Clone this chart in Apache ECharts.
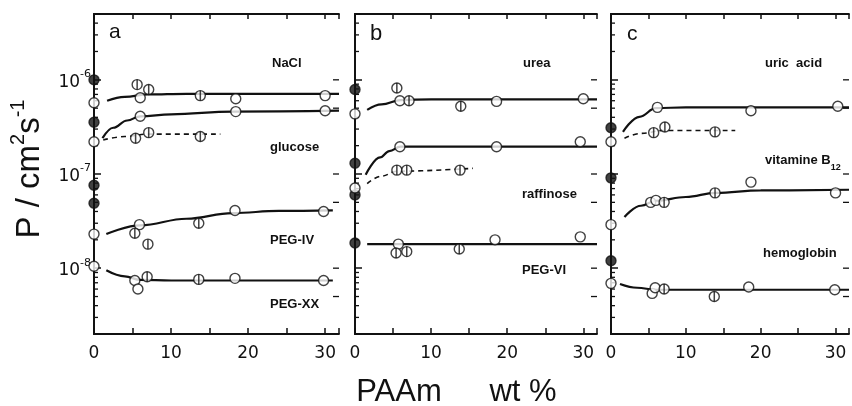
<!DOCTYPE html>
<html>
<head>
<meta charset="utf-8">
<script src="https://cdn.jsdelivr.net/npm/echarts@6/dist/echarts.min.js"></script>
<style>
html, body { margin: 0; background: #fff; }
#charts { width: 852px; height: 406px; }
</style>
</head>
<body>
<div id="charts"></div>
<script>
// axis ranges
var xMax = 31.8;
var yMin = 2e-9;
var yMax = 5e-6;
var xTickLabels = [0, 10, 20, 30];
var minorMultipliers = [2, 3, 4, 5, 6, 7, 8, 9];
var decades = [-9, -8, -7, -6];
var rightTicks = [5e-9, 1e-8, 5e-8, 1e-7, 5e-7, 1e-6];

// ---- panel a ----
var aFilled0 = [[0, 1.0e-6], [0, 3.55e-7], [0, 7.6e-8], [0, 4.9e-8]];
var aOpen0 = [[0, 5.7e-7], [0, 2.2e-7], [0, 2.3e-8], [0, 1.05e-8]];
var naclOpen = [[6.0, 6.45e-7], [18.4, 6.3e-7], [30.0, 6.8e-7]];
var naclCross = [[5.6, 8.9e-7], [7.1, 7.9e-7], [13.8, 6.8e-7]];
var naclCurve = [[1.7, 6.0e-7], [4, 6.6e-7], [7, 7.0e-7], [12, 7.1e-7], [31.8, 7.1e-7]];
var glucOpen = [[6.0, 4.1e-7], [18.4, 4.6e-7], [30.0, 4.7e-7]];
var glucCurve = [[1.1, 2.4e-7], [2.5, 3.1e-7], [4.3, 3.7e-7], [6, 4.1e-7], [10, 4.3e-7], [18, 4.6e-7], [31.8, 4.7e-7]];
var glucCross = [[5.4, 2.4e-7], [7.1, 2.75e-7], [13.8, 2.5e-7]];
var glucDash = [[1.2, 2.3e-7], [4, 2.5e-7], [7, 2.65e-7], [16.4, 2.65e-7]];
var peg4Open = [[5.9, 2.9e-8], [18.3, 4.1e-8], [29.8, 4.0e-8]];
var peg4Cross = [[5.3, 2.35e-8], [7.0, 1.8e-8], [13.6, 3.0e-8]];
var peg4Curve = [[1.6, 2.3e-8], [6, 2.85e-8], [12, 3.35e-8], [18, 3.85e-8], [24, 4.05e-8], [31, 4.1e-8]];
var peg20Open = [[5.3, 7.4e-9], [5.7, 6.0e-9], [18.3, 7.8e-9], [29.8, 7.4e-9]];
var peg20Cross = [[6.9, 8.1e-9], [13.6, 7.6e-9]];
var peg20Curve = [[1.6, 9.5e-9], [4, 8.2e-9], [6, 7.5e-9], [10, 7.4e-9], [31, 7.4e-9]];

// ---- panel b ----
var bFilled0 = [[0, 7.9e-7], [0, 1.3e-7], [0, 6.0e-8], [0, 1.85e-8]];
var bOpen0 = [[0, 4.35e-7], [0, 7.1e-8]];
var ureaOpen = [[5.9, 6.0e-7], [18.6, 5.9e-7], [30.0, 6.3e-7]];
var ureaCross = [[5.5, 8.2e-7], [7.1, 6.0e-7], [13.9, 5.25e-7]];
var ureaCurve = [[1.6, 4.8e-7], [3.5, 5.5e-7], [6, 6.1e-7], [10, 6.2e-7], [31.8, 6.2e-7]];
var raffOpen = [[5.9, 1.95e-7], [18.6, 1.95e-7], [29.6, 2.2e-7]];
var raffCurve = [[1.4, 9.8e-8], [3.3, 1.5e-7], [4.5, 1.75e-7], [6, 1.95e-7], [10, 1.95e-7], [31.8, 1.95e-7]];
var raffCross = [[5.5, 1.1e-7], [6.8, 1.1e-7], [13.8, 1.1e-7]];
var raffDash = [[1.6, 7.9e-8], [3.5, 9.5e-8], [5.5, 1.07e-7], [15.5, 1.15e-7]];
var peg6Open = [[5.7, 1.8e-8], [18.4, 2.0e-8], [29.6, 2.15e-8]];
var peg6Cross = [[5.4, 1.45e-8], [6.8, 1.5e-8], [13.7, 1.6e-8]];
var peg6Curve = [[1.6, 1.8e-8], [31.8, 1.8e-8]];

// ---- panel c ----
var cFilled0 = [[0, 3.1e-7], [0, 9.1e-8], [0, 1.2e-8]];
var cOpen0 = [[0, 2.2e-7], [0, 2.9e-8], [0, 6.9e-9]];
var uricOpen = [[6.2, 5.1e-7], [18.7, 4.7e-7], [30.3, 5.25e-7]];
var uricCurve = [[1.6, 2.8e-7], [3.8, 4.05e-7], [6, 5.0e-7], [10, 5.1e-7], [31.8, 5.1e-7]];
var uricCross = [[5.7, 2.75e-7], [7.2, 3.15e-7], [13.9, 2.8e-7]];
var uricDash = [[1.8, 2.4e-7], [4, 2.7e-7], [7, 2.9e-7], [16.6, 2.9e-7]];
var b12Open = [[5.3, 5.0e-8], [6.0, 5.25e-8], [18.7, 8.2e-8], [30.0, 6.3e-8]];
var b12Cross = [[7.1, 5.0e-8], [13.9, 6.3e-8]];
var b12Curve = [[1.8, 3.5e-8], [4, 4.6e-8], [6, 5.2e-8], [10, 5.7e-8], [14, 6.3e-8], [20, 6.7e-8], [31.8, 6.8e-8]];
var hemoOpen = [[5.5, 5.4e-9], [5.9, 6.2e-9], [18.4, 6.3e-9], [29.9, 5.9e-9]];
var hemoCross = [[7.1, 6.0e-9], [13.8, 5.0e-9]];
var hemoCurve = [[1.2, 6.8e-9], [3.5, 6.2e-9], [6, 5.9e-9], [10, 5.9e-9], [31.8, 5.9e-9]];

var INK = '#111';
var FONT = 'Liberation Sans';

var myChart = echarts.init(document.getElementById('charts'), null, { width: 852, height: 406 });

var grids = [
    { left: 94, top: 14, width: 245, height: 320 },
    { left: 355, top: 14, width: 242, height: 320 },
    { left: 611, top: 14, width: 242, height: 320 }
];

var xAxes = [];
var yAxes = [];
grids.forEach(function (g, i) {
    xAxes.push({
        type: 'value', gridIndex: i, min: 0, max: xMax, interval: 5,
        axisLine: { show: true, lineStyle: { color: INK, width: 1.8 } },
        axisTick: { inside: true, length: 6, lineStyle: { color: INK, width: 1.5 } },
        splitLine: { show: false },
        axisLabel: {
            margin: 11, color: INK, fontSize: 17, fontFamily: 'DejaVu Sans',
            formatter: function (v) { return xTickLabels.indexOf(v) >= 0 ? String(v) : ''; }
        }
    });
    xAxes.push({
        type: 'value', gridIndex: i, position: 'top', min: 0, max: xMax, interval: 5,
        axisLine: { show: true, lineStyle: { color: INK, width: 1.8 } },
        axisTick: { inside: true, length: 5, lineStyle: { color: INK, width: 1.5 } },
        splitLine: { show: false },
        axisLabel: { show: false }
    });
    yAxes.push({
        type: 'log', logBase: 10, gridIndex: i, min: yMin, max: yMax,
        axisLine: { show: true, lineStyle: { color: INK, width: 1.8 } },
        axisTick: { inside: true, length: 7, lineStyle: { color: INK, width: 1.5 } },
        splitLine: { show: false },
        axisLabel: i === 0 ? {
            margin: 3, color: INK, fontFamily: 'DejaVu Sans',
            formatter: function (v) {
                var e = Math.log10(v), r = Math.round(e);
                if (Math.abs(e - r) > 1e-4) return '';
                return '{b|10}{s|' + r + '}';
            },
            rich: {
                b: { fontSize: 17, lineHeight: 22, verticalAlign: 'bottom', fontFamily: 'DejaVu Sans', color: INK },
                s: { fontSize: 11, lineHeight: 11, verticalAlign: 'top', fontFamily: 'DejaVu Sans', color: INK }
            }
        } : { show: false }
    });
    yAxes.push({
        type: 'log', logBase: 10, gridIndex: i, position: 'right', min: yMin, max: yMax,
        axisLine: { show: true, lineStyle: { color: INK, width: 1.8 } },
        axisTick: { show: false },
        splitLine: { show: false },
        axisLabel: { show: false }
    });
});

function curve(g, data, dashed) {
    return {
        type: 'line', xAxisIndex: 2 * g, yAxisIndex: 2 * g, data: data,
        smooth: 0.4, smoothMonotone: 'x', symbol: 'none', silent: true, z: 2,
        lineStyle: { color: INK, width: dashed ? 1.6 : 2.2, type: dashed ? [5, 4] : 'solid' }
    };
}

function dots(g, data, kind) {
    var out = [{
        type: 'scatter', xAxisIndex: 2 * g, yAxisIndex: 2 * g, data: data,
        symbol: 'circle', symbolSize: 10, clip: false, silent: true, z: 3,
        itemStyle: { color: kind === 'filled' ? INK : '#fff', borderColor: INK, borderWidth: 1.4 }
    }];
    if (kind === 'cross') {
        out.push({
            type: 'scatter', xAxisIndex: 2 * g, yAxisIndex: 2 * g, data: data,
            symbol: 'rect', symbolSize: [1.5, 10], clip: false, silent: true, z: 4,
            itemStyle: { color: INK }
        });
    }
    return out;
}

function ticks(g) {
    var data = [];
    decades.forEach(function (e) {
        minorMultipliers.forEach(function (k) {
            var v = k * Math.pow(10, e);
            if (v > yMin && v < yMax) data.push([0, v]);
        });
    });
    rightTicks.forEach(function (v) { data.push([xMax, v]); });
    return {
        type: 'custom', xAxisIndex: 2 * g, yAxisIndex: 2 * g, data: data, silent: true, clip: false, z: 1,
        renderItem: function (params, api) {
            var x = api.value(0);
            var p = api.coord([x, api.value(1)]);
            var len = x === 0 ? 4 : -6;
            return { type: 'line', shape: { x1: p[0], y1: p[1], x2: p[0] + len, y2: p[1] },
                     style: { stroke: INK, lineWidth: 1.3 } };
        }
    };
}

var series = [ticks(0), ticks(1), ticks(2),
    curve(0, naclCurve), curve(0, glucCurve), curve(0, glucDash, true), curve(0, peg4Curve), curve(0, peg20Curve),
    curve(1, ureaCurve), curve(1, raffCurve), curve(1, raffDash, true), curve(1, peg6Curve),
    curve(2, uricCurve), curve(2, uricDash, true), curve(2, b12Curve), curve(2, hemoCurve)
].concat(
    dots(0, aFilled0, 'filled'), dots(0, aOpen0, 'open'),
    dots(0, naclOpen, 'open'), dots(0, naclCross, 'cross'),
    dots(0, glucOpen, 'open'), dots(0, glucCross, 'cross'),
    dots(0, peg4Open, 'open'), dots(0, peg4Cross, 'cross'),
    dots(0, peg20Open, 'open'), dots(0, peg20Cross, 'cross'),
    dots(1, bFilled0, 'filled'), dots(1, bOpen0, 'open'),
    dots(1, ureaOpen, 'open'), dots(1, ureaCross, 'cross'),
    dots(1, raffOpen, 'open'), dots(1, raffCross, 'cross'),
    dots(1, peg6Open, 'open'), dots(1, peg6Cross, 'cross'),
    dots(2, cFilled0, 'filled'), dots(2, cOpen0, 'open'),
    dots(2, uricOpen, 'open'), dots(2, uricCross, 'cross'),
    dots(2, b12Open, 'open'), dots(2, b12Cross, 'cross'),
    dots(2, hemoOpen, 'open'), dots(2, hemoCross, 'cross')
);

function label(text, x, y, size, weight) {
    return {
        type: 'text', x: x, y: y, silent: true, z: 10,
        style: {
            text: text, fill: INK, font: (weight || 'bold') + ' ' + (size || 13) + 'px ' + FONT,
            align: 'left', verticalAlign: 'middle'
        }
    };
}

var graphics = [
    label('a', 109, 32, 21, 'normal'),
    label('b', 370, 34, 22, 'normal'),
    label('c', 627, 34, 21, 'normal'),
    label('NaCl', 272, 63),
    label('glucose', 270, 147),
    label('PEG-IV', 270, 240),
    label('PEG-XX', 270, 304),
    label('urea', 523, 63),
    label('raffinose', 522, 194),
    label('PEG-VI', 522, 270),
    label('uric  acid', 765, 63),
    {
        type: 'text', x: 765, y: 163, silent: true, z: 10,
        style: {
            text: '{n|vitamine B}{u|12}', align: 'left', verticalAlign: 'middle',
            rich: {
                n: { fontSize: 13, fontWeight: 'bold', fontFamily: FONT, fill: INK, lineHeight: 18, verticalAlign: 'top' },
                u: { fontSize: 9, fontWeight: 'bold', fontFamily: FONT, fill: INK, lineHeight: 9, verticalAlign: 'bottom' }
            }
        }
    },
    label('hemoglobin', 763, 253),
    {
        type: 'text', x: 27, y: 169, rotation: Math.PI / 2, silent: true, z: 10,
        style: {
            text: '{p|P / cm}{s|2}{p|s}{s|-1}', align: 'center', verticalAlign: 'middle',
            rich: {
                p: { fontSize: 33, fontFamily: FONT, fill: INK, lineHeight: 38, verticalAlign: 'bottom' },
                s: { fontSize: 20, fontFamily: FONT, fill: INK, lineHeight: 20, verticalAlign: 'top' }
            }
        }
    },
    {
        type: 'text', x: 399, y: 392, silent: true, z: 10,
        style: { text: 'PAAm', font: '31px ' + FONT, fill: INK, align: 'center', verticalAlign: 'middle' }
    },
    {
        type: 'text', x: 523, y: 392, silent: true, z: 10,
        style: { text: 'wt %', font: '31px ' + FONT, fill: INK, align: 'center', verticalAlign: 'middle' }
    }
];

var option = {
    animation: false,
    backgroundColor: '#fff',
    grid: grids,
    xAxis: xAxes,
    yAxis: yAxes,
    series: series,
    graphic: graphics
};

myChart.setOption(option);
</script>
</body>
</html>
